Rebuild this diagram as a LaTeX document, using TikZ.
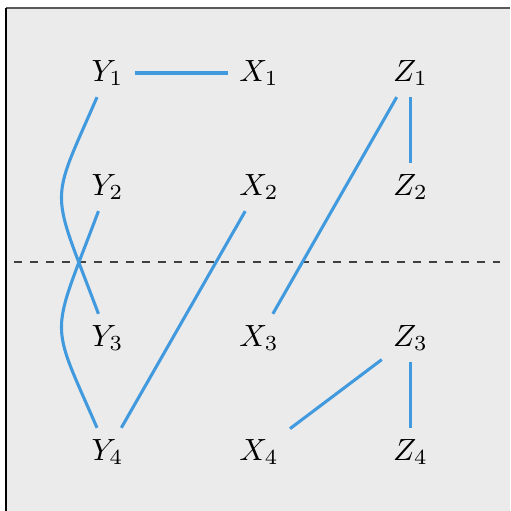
\documentclass[tikz,border=0pt]{standalone}
\usepackage{xcolor}
\definecolor{panel}{HTML}{EBEBEB}
\definecolor{linkblue}{HTML}{4199DE}
\begin{document}
\begin{tikzpicture}[
        var/.style={inner sep=3.5pt},
        link/.style={line width=1pt, linkblue}
    ]
        % Sfondo e cornice
        \useasboundingbox (0,0) rectangle (5.84,5.851);
        \fill[panel] (0.069,0) rectangle (5.84,5.759);
        \draw[gray!70!black, line width=0.6pt] (0.069,5.759) -- (5.84,5.759);
        \draw[black, line width=0.5pt] (0.069,0) -- (0.069,5.759);
        
        % Linea di separazione
        \draw[black!75, line width=0.35pt, dash pattern=on 2.6pt off 2.6pt] (0.160,2.851) -- (5.725,2.851);
        
        % Variabili
        \node[var] (Y1) at (1.231,5.015) {$Y_1$};
        \node[var] (X1) at (2.966,5.015) {$X_1$};
        \node[var] (Z1) at (4.700,5.015) {$Z_1$};
        \node[var] (Y2) at (1.231,3.710) {$Y_2$};
        \node[var] (X2) at (2.966,3.710) {$X_2$};
        \node[var] (Z2) at (4.700,3.710) {$Z_2$};
        \node[var] (Y3) at (1.231,1.981) {$Y_3$};
        \node[var] (X3) at (2.966,1.981) {$X_3$};
        \node[var] (Z3) at (4.700,1.981) {$Z_3$};
        \node[var] (Y4) at (1.231,0.676) {$Y_4$};
        \node[var] (X4) at (2.966,0.676) {$X_4$};
        \node[var] (Z4) at (4.700,0.676) {$Z_4$};
        
        % Collegamenti
        \draw[link] (Y1) -- (X1);
        \draw[link] (Z1) -- (Z2);
        \draw[link] (Z1) -- (X3);
        \draw[link] (X2) -- (Y4);
        \draw[link] (Z3) -- (X4);
        \draw[link] (Z3) -- (Z4);
        \draw[link] (Y1) to[out=-113.6, in=110.7, out distance=1.385cm, in distance=1.58cm] (Y3);
        \draw[link] (Y2) to[out=-110.7, in=113.6, out distance=1.58cm, in distance=1.385cm] (Y4);
    \end{tikzpicture}
\end{document}
